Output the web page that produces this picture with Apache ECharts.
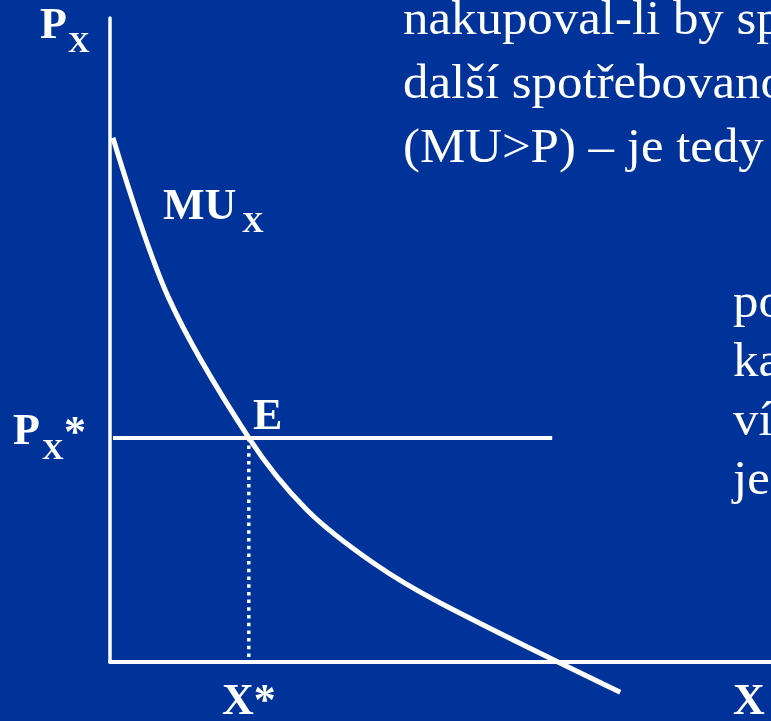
<!DOCTYPE html>
<html>
<head>
<meta charset="utf-8">
<title>MU_X a rovnováha spotřebitele</title>
<script src="https://cdn.jsdelivr.net/npm/echarts@6/dist/echarts.min.js"></script>
<style>
  html, body { margin: 0; padding: 0; background: #003399; }
  #chart { width: 771px; height: 721px; }
</style>
</head>
<body>
<div id="chart"></div>
<script>
// křivka mezního užitku MU_X
const muX = [0.45, 8.8, 21.0, 29.8, 39.8, 49.9, 77.2]
const muY = [81.4, 56.7, 34.8, 23.6, 15.4, 9.2, -4.7]
// cena Px* a rovnovážné množství X*
const priceLevel = 34.8
const priceLineX = [0.45, 66.9]
const equilibriumX = 21.0
// texty
const topLines = ["nakupoval-li by spotřebitel", "další spotřebovanou jednotku", "(MU>P) – je tedy"]
const sideLines = ["po", "ka", "ví", "je"]

const WHITE = "#ffffff"
const SERIF = "'Liberation Serif', 'DejaVu Serif', serif"

const chart = echarts.init(document.getElementById("chart"))

// pomocná funkce pro textový prvek
function label(text, x, y, size, bold, sx) {
  return {
    type: "text",
    left: x,
    top: y,
    silent: true,
    scaleX: sx || 1,
    style: {
      text: text,
      fill: WHITE,
      font: (bold ? "bold " : "") + size + "px " + SERIF,
    },
  }
}

const graphics = [
  // P_X
  label("P", 40, 5, 44, true),
  label("X", 68, 29, 30, true),
  // MU_X
  label("MU", 163, 186, 44, true),
  label("X", 242, 209, 30, true),
  // E
  label("E", 253, 396, 44, true),
  // P_X*
  label("P", 13, 411, 44, true),
  label("X", 42, 436, 30, true),
  label("*", 64, 413, 44, true),
  // X*
  label("X*", 222, 681, 44, true),
  // X
  label("X", 733, 681, 44, true),
]
topLines.forEach((t, i) => graphics.push(label(t, 403, -3 + i * 64, 48, false, 1.06)))
sideLines.forEach((t, i) => graphics.push(label(t, 733, 280 + i * 59, 48, false, 1.06)))

const option = {
  backgroundColor: "#003399",
  animation: false,
  grid: { left: 110, right: 0, top: 18, bottom: 59 },
  xAxis: {
    type: "value",
    min: 0,
    max: 100,
    axisLine: { show: true, onZero: false, lineStyle: { color: WHITE, width: 4 } },
    axisTick: { show: false },
    axisLabel: { show: false },
    splitLine: { show: false },
  },
  yAxis: {
    type: "value",
    min: 0,
    max: 100,
    axisLine: { show: true, onZero: false, lineStyle: { color: WHITE, width: 3.5 } },
    axisTick: { show: false },
    axisLabel: { show: false },
    splitLine: { show: false },
  },
  series: [
    {
      name: "MU_X",
      type: "line",
      data: muX.map((x, i) => [x, muY[i]]),
      smooth: 0.33,
      symbol: "none",
      clip: false,
      lineStyle: { color: WHITE, width: 5 },
    },
    {
      name: "Px*",
      type: "line",
      data: priceLineX.map((x) => [x, priceLevel]),
      symbol: "none",
      lineStyle: { color: WHITE, width: 4 },
    },
    {
      name: "X*",
      type: "line",
      data: [[equilibriumX, priceLevel], [equilibriumX, 0]],
      symbol: "none",
      lineStyle: { color: WHITE, width: 3.5, type: [3.5, 4.2] },
    },
  ],
  graphic: graphics,
}

chart.setOption(option)
</script>
</body>
</html>
